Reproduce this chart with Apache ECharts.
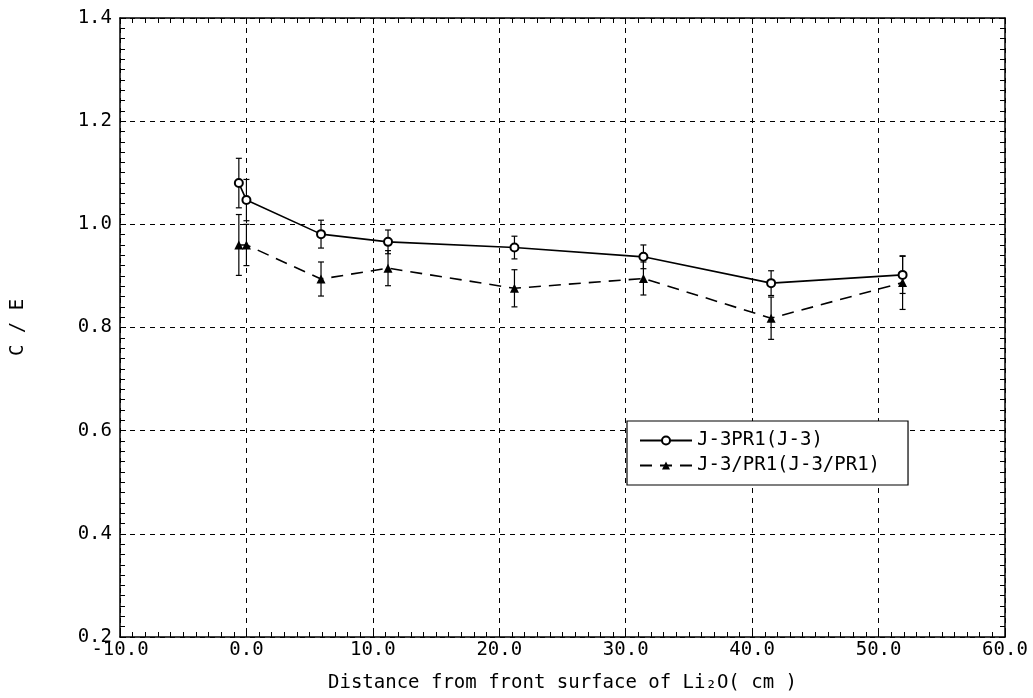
<!DOCTYPE html>
<html>
<head>
<meta charset="utf-8">
<script src="https://cdn.jsdelivr.net/npm/echarts@6/dist/echarts.min.js"></script>
<style>
html,body{margin:0;padding:0;background:#fff;}
#chart{width:1033px;height:698px;}
</style>
</head>
<body>
<div id="chart"></div>
<script>
// Data
const distance = [-0.6, 0.0, 5.9, 11.2, 21.2, 31.4, 41.5, 51.9];
const ceJ3 = [1.080, 1.047, 0.981, 0.966, 0.955, 0.937, 0.886, 0.902];
const errJ3 = [0.048, 0.040, 0.027, 0.023, 0.022, 0.023, 0.024, 0.036];
const ceJ3PR1 = [0.960, 0.960, 0.894, 0.915, 0.876, 0.895, 0.818, 0.887];
const errJ3PR1 = [0.059, 0.040, 0.033, 0.034, 0.036, 0.032, 0.041, 0.052];
const seriesNames = ['J-3PR1(J-3)', 'J-3/PR1(J-3/PR1)'];
const xTitle = 'Distance from front surface of Li\u2082O( cm )';
const yTitle = 'C / E';

const FONT = 'DejaVu Sans Mono';
const FS = 19;
const chart = echarts.init(document.getElementById('chart'));

function pairs(xs, ys) { return xs.map((x, i) => [x, ys[i]]); }
function errData(xs, ys, es) { return xs.map((x, i) => [x, ys[i] - es[i], ys[i] + es[i]]); }

function errRender(params, api) {
  const x = api.value(0);
  const lo = api.coord([x, api.value(1)]);
  const hi = api.coord([x, api.value(2)]);
  const cap = 3;
  const st = { stroke: '#000', lineWidth: 1.2 };
  return {
    type: 'group',
    children: [
      { type: 'line', shape: { x1: lo[0], y1: lo[1], x2: hi[0], y2: hi[1] }, style: st },
      { type: 'line', shape: { x1: lo[0] - cap, y1: lo[1], x2: lo[0] + cap, y2: lo[1] }, style: st },
      { type: 'line', shape: { x1: hi[0] - cap, y1: hi[1], x2: hi[0] + cap, y2: hi[1] }, style: st }
    ]
  };
}

const gridLine = { show: true, lineStyle: { color: '#000', type: [5, 5], width: 1 } };
const axisLine = { show: true, onZero: false, lineStyle: { color: '#000', width: 1.5 } };
const tick = { show: true, inside: true, length: 6, lineStyle: { color: '#000' } };
const minor = { show: true, splitNumber: 10, length: 5, lineStyle: { color: '#000' } };

const option = {
  backgroundColor: '#fff',
  animation: false,
  grid: { left: 120, right: 28, top: 18, bottom: 59, containLabel: false },
  legend: {
    orient: 'vertical',
    left: 627,
    top: 421,
    padding: [10, 28, 10, 12],
    itemGap: 6,
    itemWidth: 52,
    itemHeight: 10,
    borderColor: '#000',
    borderWidth: 1.2,
    borderRadius: 0,
    backgroundColor: '#fff',
    textStyle: { fontFamily: FONT, fontSize: FS, color: '#000' },
    data: seriesNames
  },
  xAxis: [
    {
      type: 'value', min: -10, max: 60, interval: 10,
      axisLine: axisLine, axisTick: tick, minorTick: minor,
      splitLine: gridLine,
      axisLabel: { color: '#000', fontFamily: FONT, fontSize: FS, margin: 4,
        formatter: v => v.toFixed(1) },
      name: xTitle, nameLocation: 'middle', nameGap: 37,
      nameTextStyle: { color: '#000', fontFamily: FONT, fontSize: FS }
    },
    {
      type: 'value', position: 'top', min: -10, max: 60, interval: 10,
      axisLine: axisLine, axisTick: tick, minorTick: minor,
      splitLine: { show: false }, axisLabel: { show: false }
    }
  ],
  yAxis: [
    {
      type: 'value', min: 0.2, max: 1.4, interval: 0.2,
      axisLine: axisLine, axisTick: tick, minorTick: minor,
      splitLine: gridLine,
      axisLabel: { color: '#000', fontFamily: FONT, fontSize: FS, margin: 8,
        formatter: v => v.toFixed(1) },
      name: yTitle, nameLocation: 'middle', nameGap: 92, nameRotate: 90,
      nameTextStyle: { color: '#000', fontFamily: FONT, fontSize: FS }
    },
    {
      type: 'value', position: 'right', min: 0.2, max: 1.4, interval: 0.2,
      axisLine: axisLine, axisTick: tick, minorTick: minor,
      splitLine: { show: false }, axisLabel: { show: false }
    }
  ],
  series: [
    {
      name: seriesNames[0], type: 'line', data: pairs(distance, ceJ3),
      symbol: 'emptyCircle', symbolSize: 8,
      lineStyle: { color: '#000', width: 1.6, type: 'solid' },
      itemStyle: { color: '#000', borderColor: '#000', borderWidth: 1.6 },
      z: 5
    },
    {
      name: seriesNames[1], type: 'line', data: pairs(distance, ceJ3PR1),
      symbol: 'triangle', symbolSize: 9,
      lineStyle: { color: '#000', width: 1.6, type: [12, 8] },
      itemStyle: { color: '#000' },
      z: 5
    },
    {
      type: 'custom', renderItem: errRender, data: errData(distance, ceJ3, errJ3),
      encode: { x: 0, y: [1, 2] }, z: 4, silent: true
    },
    {
      type: 'custom', renderItem: errRender, data: errData(distance, ceJ3PR1, errJ3PR1),
      encode: { x: 0, y: [1, 2] }, z: 4, silent: true
    }
  ]
};
chart.setOption(option);
</script>
</body>
</html>
